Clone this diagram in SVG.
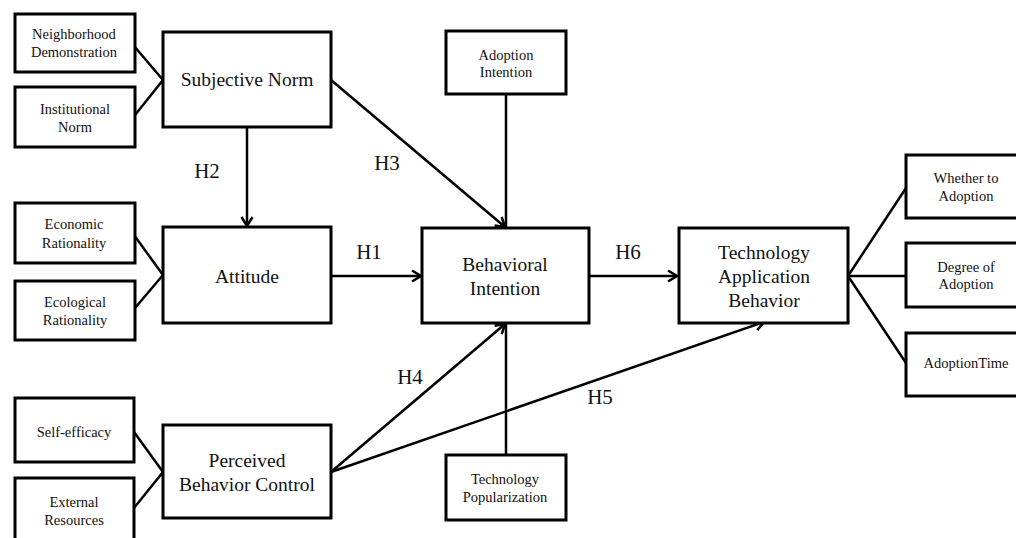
<svg xmlns="http://www.w3.org/2000/svg" width="1016" height="538" viewBox="0 0 1016 538">
<style>
rect{fill:#fff;stroke:#000;stroke-width:3}
text{font-family:"Liberation Serif","Times New Roman",serif;fill:#111;text-anchor:middle;dominant-baseline:central}
.s{font-size:14.5px}
.l{font-size:19.5px}
.h{font-size:21px}
.c line{stroke:#000;stroke-width:2.5;fill:none}
.c .a{marker-end:url(#arr)}
</style>
<defs>
<marker id="arr" markerUnits="userSpaceOnUse" markerWidth="14" markerHeight="14" viewBox="-12 -7 14 14" refX="0" refY="0" orient="auto">
<path d="M-9,-5.5 L0,0 L-9,5.5" fill="none" stroke="#000" stroke-width="2.5"/>
</marker>
</defs>
<g class="c" id="connectors">
<line x1="134" y1="46" x2="163" y2="80"/>
<line x1="135" y1="115" x2="163" y2="80"/>
<line x1="134" y1="235" x2="163" y2="275"/>
<line x1="135" y1="308" x2="163" y2="275"/>
<line x1="134" y1="432" x2="163" y2="472"/>
<line x1="134" y1="508" x2="163" y2="472"/>
<line class="a" x1="247" y1="127" x2="247" y2="226"/>
<line class="a" x1="331" y1="80" x2="505" y2="227"/>
<line class="a" x1="331" y1="276" x2="421" y2="276"/>
<line x1="506" y1="94" x2="506" y2="228"/>
<line x1="506" y1="323" x2="506" y2="455"/>
<line class="a" x1="331" y1="472" x2="505" y2="324"/>
<line class="a" x1="331" y1="472" x2="764" y2="322"/>
<line class="a" x1="589" y1="276" x2="677" y2="276"/>
<line x1="848" y1="276" x2="906" y2="188"/>
<line x1="848" y1="276" x2="906" y2="276"/>
<line x1="848" y1="276" x2="906" y2="363"/>
<text class="h" x="207" y="171">H2</text>
<text class="h" x="387" y="163">H3</text>
<text class="h" x="369" y="252">H1</text>
<text class="h" x="628" y="252">H6</text>
<text class="h" x="410" y="377">H4</text>
<text class="h" x="600" y="397">H5</text>
</g>
<g id="neighborhood"><rect x="15" y="14" width="120" height="58"/><text class="s" x="74" y="34">Neighborhood</text><text class="s" x="74" y="52">Demonstration</text></g>
<g id="institutional"><rect x="15" y="87" width="120" height="60"/><text class="s" x="75" y="109">Institutional</text><text class="s" x="75" y="127">Norm</text></g>
<g id="subjective-norm"><rect x="163" y="32" width="168" height="95"/><text class="l" x="247" y="79">Subjective Norm</text></g>
<g id="economic"><rect x="15" y="203" width="120" height="60"/><text class="s" x="74" y="224">Economic</text><text class="s" x="74" y="243">Rationality</text></g>
<g id="ecological"><rect x="15" y="281" width="120" height="59"/><text class="s" x="75" y="302">Ecological</text><text class="s" x="75" y="320">Rationality</text></g>
<g id="attitude"><rect x="163" y="227" width="168" height="96"/><text class="l" x="247" y="276">Attitude</text></g>
<g id="self-efficacy"><rect x="15" y="398" width="119" height="64"/><text class="s" x="74" y="432">Self-efficacy</text></g>
<g id="external"><rect x="15" y="478" width="119" height="70"/><text class="s" x="74" y="502">External</text><text class="s" x="74" y="520">Resources</text></g>
<g id="pbc"><rect x="163" y="425" width="168" height="93"/><text class="l" x="247" y="460">Perceived</text><text class="l" x="247" y="484">Behavior Control</text></g>
<g id="adoption-intention"><rect x="446" y="31" width="120" height="63"/><text class="s" x="506" y="55">Adoption</text><text class="s" x="506" y="72">Intention</text></g>
<g id="behavioral-intention"><rect x="422" y="228" width="167" height="95"/><text class="l" x="505" y="264">Behavioral</text><text class="l" x="505" y="288">Intention</text></g>
<g id="tech-popularization"><rect x="446" y="455" width="120" height="65"/><text class="s" x="505" y="479">Technology</text><text class="s" x="505" y="497">Popularization</text></g>
<g id="tab"><rect x="679" y="228" width="169" height="95"/><text class="l" x="764" y="252">Technology</text><text class="l" x="764" y="276">Application</text><text class="l" x="764" y="300">Behavior</text></g>
<g id="whether"><rect x="906" y="155" width="125" height="63"/><text class="s" x="966" y="178">Whether to</text><text class="s" x="966" y="196">Adoption</text></g>
<g id="degree"><rect x="906" y="243" width="125" height="64"/><text class="s" x="966" y="267">Degree of</text><text class="s" x="966" y="284">Adoption</text></g>
<g id="adoption-time"><rect x="906" y="333" width="125" height="63"/><text class="s" x="966" y="363">AdoptionTime</text></g>
</svg>
